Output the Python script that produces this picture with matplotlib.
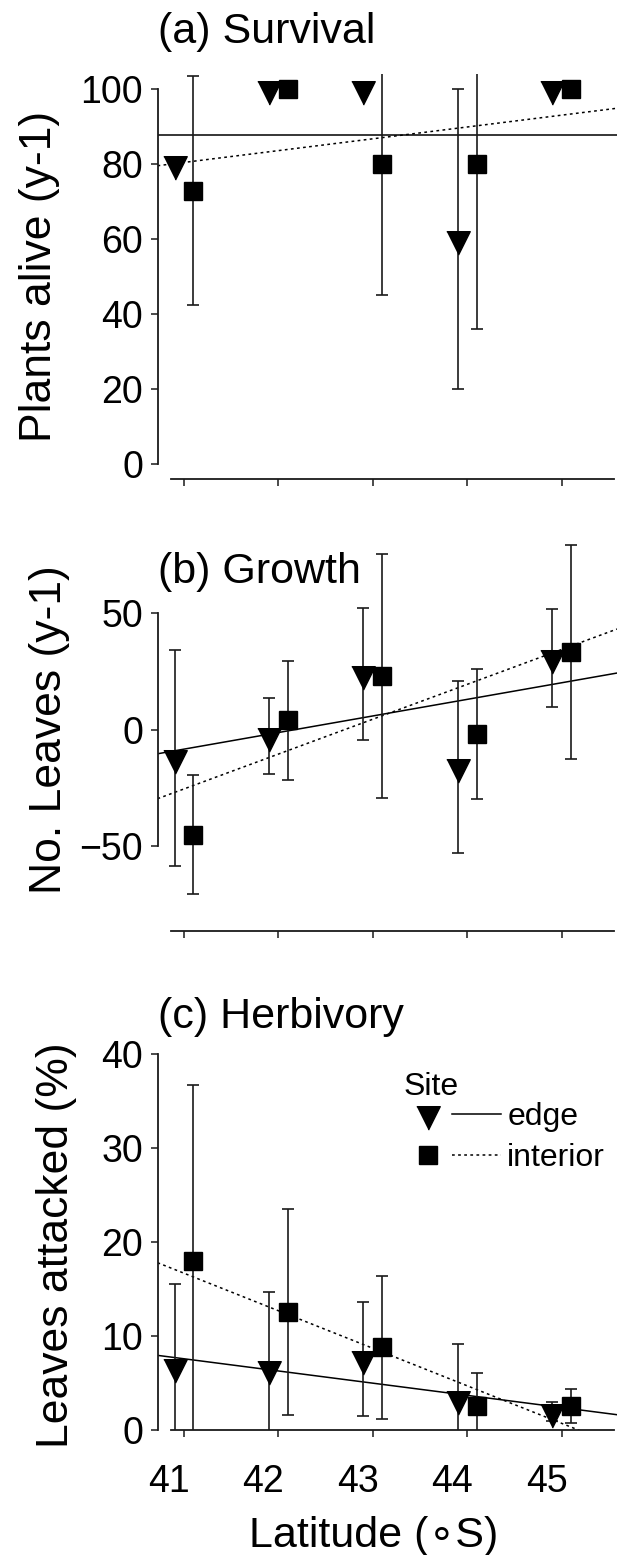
import numpy as np
import matplotlib
matplotlib.use('Agg')
import matplotlib.pyplot as plt
from matplotlib.legend_handler import HandlerTuple
from matplotlib.lines import Line2D
from matplotlib.transforms import ScaledTranslation

plt.rcParams['font.family'] = ['Liberation Sans', 'DejaVu Sans']

# Latitude of the five sites; edge / interior points are dodged around it
latitude = np.array([41, 42, 43, 44, 45])
dodge = 0.1

# (a) Survival, plants alive (mean, error)
surv_edge = [80, 100, 100, 60, 100]
surv_edge_err = [0, 0, 0, 40, 0]
surv_int = [73, 100, 80, 80, 100]
surv_int_err = [30.5, 0, 34.8, 43.9, 0]
surv_fit_edge = (0.0, 87.8)     # (slope, value at 43 S)
surv_fit_int = (3.15, 86.8)

# (b) Growth, no. leaves
growth_edge = [-12.1, -2.5, 23.9, -16.1, 30.7]
growth_edge_err = [46.4, 16.3, 28.2, 36.8, 21.1]
growth_int = [-45.0, 4.0, 23.1, -1.8, 33.4]
growth_int_err = [25.5, 25.6, 52.4, 27.8, 45.8]
growth_fit_edge = (7.12, 5.9)
growth_fit_int = (14.96, 4.5)

# (c) Herbivory, leaves attacked (%)
herb_edge = [6.7, 6.5, 7.5, 3.3, 1.9]
herb_edge_err = [8.8, 8.2, 6.1, 5.8, 1.0]
herb_int = [18.0, 12.5, 8.75, 2.5, 2.5]
herb_int_err = [18.7, 11.0, 7.65, 3.5, 1.8]
herb_fit_edge = (-1.30, 4.94)
herb_fit_int = (-4.0, 8.66)

W, H = 617, 1555
XLIM = (40.719, 45.587)
TRI = [(-1, 0.667), (1, 0.667), (0, -1.333)]   # down triangle, centroid at point
DOTTED = (0, (1.8, 2.2))


def px_axes(top, bottom, left=157.5, right=617):
    return [left / W, 1 - bottom / H, (right - left) / W, (bottom - top) / H]


def draw_panel(ax, edge, edge_err, interior, interior_err, fit_edge, fit_int,
               ylim, yticks, title, title_dy, ylabel, ylabel_xy):
    ax.set_xlim(XLIM)
    ax.set_ylim(ylim)

    x = np.array(XLIM)
    for (slope, mid), ls in ((fit_edge, '-'), (fit_int, DOTTED)):
        ax.plot(x, mid + slope * (x - 43), color='black', lw=1.1, ls=ls, zorder=2)

    for xs, ys, err in ((latitude - dodge, edge, edge_err),
                        (latitude + dodge, interior, interior_err)):
        ax.errorbar(xs, ys, yerr=err, fmt='none', ecolor='#1a1a1a',
                    elinewidth=1.2, capsize=4.2, capthick=1.2, zorder=3)
    ax.plot(latitude - dodge, edge, ls='none', marker=TRI, ms=22.5,
            color='black', zorder=4)
    ax.plot(latitude + dodge, interior, ls='none', marker='s', ms=12.3,
            color='black', zorder=4)

    for s in ('top', 'right'):
        ax.spines[s].set_visible(False)
    ax.spines['left'].set_bounds(yticks[0], yticks[-1])
    ax.spines['bottom'].set_bounds(40.86, 45.55)
    for s in ('left', 'bottom'):
        ax.spines[s].set_linewidth(1.3)
        ax.spines[s].set_color('#1a1a1a')

    ax.set_yticks(yticks)
    ax.set_xticks(latitude)
    ax.tick_params(axis='both', length=5, width=1.1, color='#1a1a1a',
                   labelsize=27)
    ax.tick_params(axis='y', pad=5.4)
    ax.tick_params(axis='x', pad=20)

    ax.annotate(title, xy=(0, 1), xycoords='axes fraction',
                xytext=(0, title_dy), textcoords='offset points',
                ha='left', va='baseline', fontsize=31)
    ax.set_ylabel(ylabel, fontsize=32)
    ax.yaxis.set_label_coords(*ylabel_xy)


fig = plt.figure(figsize=(W / 100, H / 100), dpi=100)

ax_a = fig.add_axes(px_axes(74.3, 479.3))
draw_panel(ax_a, surv_edge, surv_edge_err, surv_int, surv_int_err,
           surv_fit_edge, surv_fit_int, (-4, 104), [0, 20, 40, 60, 80, 100],
           '(a) Survival', 22.5, 'Plants alive (y-1)', (-0.212, 0.5))
ax_a.tick_params(axis='x', labelbottom=False)

ax_b = fig.add_axes(px_axes(528.4, 931))
draw_panel(ax_b, growth_edge, growth_edge_err, growth_int, growth_int_err,
           growth_fit_edge, growth_fit_int, (-86.4, 86.4), [-50, 0, 50],
           '(b) Growth', -39.3, 'No. Leaves (y-1)', (-0.19, 0.5))
ax_b.tick_params(axis='x', labelbottom=False)

ax_c = fig.add_axes(px_axes(1054.3, 1429.5))
draw_panel(ax_c, herb_edge, herb_edge_err, herb_int, herb_int_err,
           herb_fit_edge, herb_fit_int, (0, 40), [0, 10, 20, 30, 40],
           '(c) Herbivory', 18.9, 'Leaves attacked (%)', (-0.176, 0.49))
ax_c.set_xlabel('Latitude (\u2218S)', fontsize=31)
ax_c.xaxis.set_label_coords(0.471, -0.23)

# tick labels sit a little left of their ticks in the original
shift = ScaledTranslation(-15 / 100, 0, fig.dpi_scale_trans)
for lab in ax_c.get_xticklabels():
    lab.set_transform(lab.get_transform() + shift)

edge_handle = (Line2D([], [], ls='none', marker=TRI, ms=22.5, color='black'),
               Line2D([], [], color='black', lw=1.1))
int_handle = (Line2D([], [], ls='none', marker='s', ms=12.3, color='black'),
              Line2D([], [], color='black', lw=1.1, ls=DOTTED))
leg = ax_c.legend([edge_handle, int_handle], ['edge', 'interior'],
                  handler_map={tuple: HandlerTuple(ndivide=None, pad=0.0)},
                  title='Site', title_fontsize=23, fontsize=23,
                  loc='upper left', bbox_to_anchor=(0.535, 0.953),
                  frameon=False, borderpad=0, borderaxespad=0,
                  handlelength=3.06, handletextpad=0.19, labelspacing=0.35,
                  alignment='left')
leg._legend_box.sep = 0

fig.savefig('out.png', dpi=100)
